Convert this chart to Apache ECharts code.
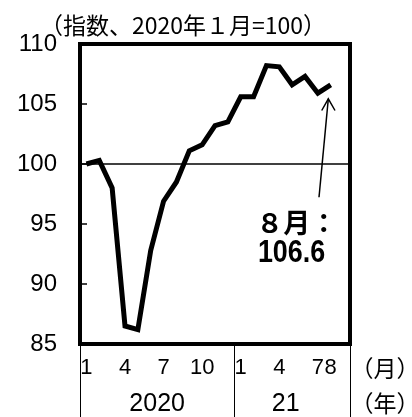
<!DOCTYPE html>
<html>
<head>
<meta charset="utf-8">
<script src="https://cdn.jsdelivr.net/npm/echarts@6/dist/echarts.min.js"></script>
<style>
html,body{margin:0;padding:0;background:#fff;}
#chart{width:412px;height:417px;}
</style>
</head>
<body>
<div id="chart"></div>
<script>
// Month categories: Jan 2020 .. Sep 2021 (Sep 2021 slot left empty)
const months = ['1','2','3','4','5','6','7','8','9','10','11','12','1','2','3','4','5','6','7','8','9'];
const shownMonthIdx = [0,3,6,9,12,15,18,19];
const yearLabels = [{pos: 6, text: '2020'}, {pos: 16, text: '21'}];
const yearBoundaries = [0, 12];
// Index values (2020 Jan = 100)
const indexValues = [100.0, 100.3, 98.0, 86.5, 86.2, 92.8, 96.9, 98.5, 101.1, 101.6, 103.2, 103.5,
                     105.6, 105.6, 108.2, 108.1, 106.6, 107.3, 105.9, 106.6];
const yTicks = [85, 90, 95, 100, 105, 110];
const baseLine = 100;
const titleText = '（指数、2020年１月=100）';
const noteLine1 = '８月：';
const noteLine2 = '106.6';

const SANS = '"Liberation Sans", Arial, sans-serif';
const CJK = '"Noto Sans CJK JP", sans-serif';

const chart = echarts.init(document.getElementById('chart'), null, {renderer: 'canvas'});
const option = {
  animation: false,
  backgroundColor: '#fff',
  grid: {left: 80, right: 62, top: 44, bottom: 72, show: true, borderColor: '#000', borderWidth: 4, backgroundColor: 'transparent', z: 3},
  xAxis: [{
    type: 'category',
    data: months,
    boundaryGap: true,
    axisLine: {show: false},
    axisTick: {show: true, inside: false, length: 74, interval: (i) => yearBoundaries.includes(i), lineStyle: {color: '#000', width: 1}},
    axisLabel: {interval: (i) => shownMonthIdx.includes(i), hideOverlap: false, margin: 13, fontSize: 22, fontFamily: SANS, color: '#000'},
    splitLine: {show: false}
  }, {
    type: 'value',
    position: 'bottom',
    offset: 36,
    min: 0, max: 21, interval: 1,
    axisLine: {show: false}, axisTick: {show: false}, splitLine: {show: false},
    axisLabel: {margin: 12, fontSize: 25, fontFamily: SANS, color: '#000', hideOverlap: false,
      formatter: (v) => { const y = yearLabels.find(o => o.pos === v); return y ? y.text : ''; }}
  }],
  yAxis: {
    type: 'value', min: yTicks[0], max: yTicks[yTicks.length - 1], interval: 5,
    axisLine: {show: false},
    axisTick: {show: true, inside: true, length: 7, lineStyle: {color: '#000', width: 1.5}},
    axisLabel: {margin: 23, fontSize: 24, fontFamily: SANS, color: '#000'},
    splitLine: {show: false}
  },
  series: [{
    type: 'line',
    xAxisIndex: 0,
    data: indexValues,
    symbol: 'none',
    lineStyle: {color: '#000', width: 5, join: 'miter'},
    z: 4,
    markLine: {
      silent: true, symbol: 'none', label: {show: false},
      lineStyle: {color: '#000', width: 1.5, type: 'solid'},
      data: [{yAxis: baseLine}]
    }
  }]
};
chart.setOption(option);

const last = indexValues.length - 1;
const p = chart.convertToPixel({seriesIndex: 0}, [last, indexValues[last]]);
const head = [p[0] - 2.4, p[1] + 14];
const tail = [p[0] - 11.7, p[1] + 112.5];
chart.setOption({
  graphic: [
    {type: 'text', x: 183, y: 25, style: {text: titleText, fontSize: 23, fontFamily: CJK, fill: '#000', align: 'center', verticalAlign: 'middle'}},
    {type: 'line', shape: {x1: tail[0], y1: tail[1], x2: head[0], y2: head[1]}, style: {stroke: '#000', lineWidth: 1.5}},
    {type: 'polyline', shape: {points: [[head[0] - 6.6, head[1] + 11.7], head, [head[0] + 6.7, head[1] + 11.7]]}, style: {stroke: '#000', lineWidth: 1.5, fill: null}},
    {type: 'text', x: p[0] - 34, y: p[1] + 138, style: {text: noteLine1, fontSize: 27, fontWeight: 'bold', fontFamily: CJK, fill: '#000', align: 'center', verticalAlign: 'middle'}},
    {type: 'text', x: p[0] - 39.2, y: p[1] + 168.5, scaleX: 0.84, style: {text: noteLine2, fontSize: 32, fontWeight: 'bold', fontFamily: SANS, fill: '#000', align: 'center', verticalAlign: 'middle'}},
    {type: 'text', x: 385, y: 368, style: {text: '（月）', fontSize: 23, fontFamily: CJK, fill: '#000', align: 'center', verticalAlign: 'middle'}},
    {type: 'text', x: 385, y: 403, style: {text: '（年）', fontSize: 23, fontFamily: CJK, fill: '#000', align: 'center', verticalAlign: 'middle'}}
  ]
});
</script>
</body>
</html>
